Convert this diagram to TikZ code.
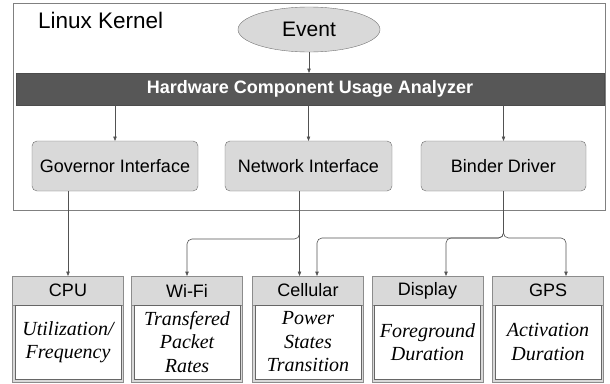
\documentclass[tikz,border=0pt]{standalone}
\usepackage{fontspec}
\setmainfont{Liberation Sans}
\newfontfamily\boxserif{Liberation Serif}
\usetikzlibrary{arrows.meta,shapes.geometric,positioning}

\begin{document}
\begin{tikzpicture}[x=1pt,y=-1pt]
\tikzstyle{every node}+=[inner sep=0pt, outer sep=0pt]
\tikzstyle{conn}=[draw=black!68, line width=0.6pt, rounded corners=5pt, -{Triangle[length=4.5pt,width=3.5pt]}]
\tikzstyle{iface}=[draw=black!58, fill=gray!30, rounded corners=5pt, minimum height=50, font=\fontsize{18}{20}\selectfont]
\tikzstyle{hwhead}=[draw=black!45, fill=gray!30, minimum width=111, minimum height=29, font=\fontsize{18}{20}\selectfont]
\tikzstyle{hwbody}=[draw=black!60, fill=white, minimum width=106, minimum height=74, align=center, font=\boxserif\itshape\fontsize{20}{23.5}\selectfont]
\useasboundingbox (0,0) rectangle (610,383);

% kernel frame
\draw [black!50, line width=0.6pt] (13,3) rectangle (605,210);
\node [anchor=base west, font=\fontsize{22.5}{24}\selectfont] (kernel) at (38,28) {Linux Kernel};
\node [ellipse, draw=black!55, fill=gray!30, minimum width=142, minimum height=45, font=\fontsize{21}{23}\selectfont] (event) at (309,29.5) {Event};
\node [draw=black!70, fill=black!66, text=white, minimum width=588, minimum height=32, font=\bfseries\fontsize{18}{20}\selectfont] (analyzer) at (310,89) {Hardware Component Usage Analyzer};
\node [iface, minimum width=166] (gov) at (115,166) {Governor Interface};
\node [iface, minimum width=167] (net) at (308.5,166) {Network Interface};
\node [iface, minimum width=165] (binder) at (503.5,166) {Binder Driver};

% hardware components
\draw [black!45, fill=gray!30] (12.5,276) rectangle (123.5,382);
\draw [black!45, fill=gray!30] (131.5,276) rectangle (242.5,382);
\draw [black!45, fill=gray!30] (252.5,276) rectangle (363.5,382);
\draw [black!45, fill=gray!30] (372,276) rectangle (483,382);
\draw [black!45, fill=gray!30] (492.5,276) rectangle (603.5,382);
\node [hwhead] (cpu) at (68,290.5) {CPU};
\node [hwhead] (wifi) at (187,290.5) {Wi-Fi};
\node [hwhead] (cell) at (308,290.5) {Cellular};
\node [hwhead] (disp) at (427.5,290.5) {Display};
\node [hwhead] (gps) at (548,290.5) {GPS};
\node [hwbody, below=0pt of cpu] (cpuinfo) {Utilization/\\Frequency};
\node [hwbody, below=0pt of wifi] (wifiinfo) {Transfered\\Packet\\Rates};
\node [hwbody, below=0pt of cell] (cellinfo) {Power\\States\\Transition};
\node [hwbody, below=0pt of disp] (dispinfo) {Foreground\\Duration};
\node [hwbody, below=0pt of gps] (gpsinfo) {Activation\\Duration};

% connectors
\draw [conn] (event.south) -- (event.south |- analyzer.north);
\draw [conn] (gov.north |- analyzer.south) -- (gov.north);
\draw [conn] (net.north |- analyzer.south) -- (net.north);
\draw [conn] (binder.north |- analyzer.south) -- (binder.north);
\draw [conn] (cpu.north |- gov.south) -- (cpu.north);
\draw [conn] ([xshift=-8.5pt]cell.north |- net.south) -- ([xshift=-8.5pt]cell.north);
\draw [conn] ([xshift=-8.5pt]cell.north |- net.south) -- ++(0,48) -| (wifi.north);
\draw [conn] (binder.south) -- ++(0,47) -| ([xshift=9pt]cell.north);
\draw [conn] (binder.south) -- ++(0,47) -| ([xshift=18.5pt]disp.north);
\draw [conn] (binder.south) -- ++(0,47) -| ([xshift=18pt]gps.north);
\end{tikzpicture}
\end{document}
